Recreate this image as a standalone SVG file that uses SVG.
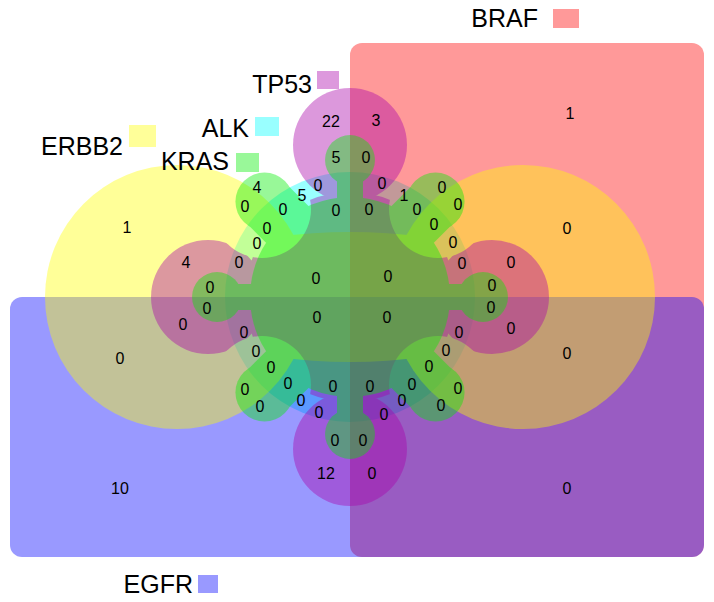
<svg xmlns="http://www.w3.org/2000/svg" xmlns:xlink="http://www.w3.org/1999/xlink" width="714" height="602" viewBox="0 0 714 602">
<style>
.set{opacity:0.4}
.cnt{font-family:"Liberation Sans",Arial,sans-serif;font-size:16px;text-anchor:middle;fill:#000}
.lab{font-family:"Liberation Sans",Arial,sans-serif;font-size:25px;fill:#000;text-anchor:end}
</style>
<defs>
<mask id="tpNotch" maskUnits="userSpaceOnUse" x="0" y="0" width="714" height="602">
<rect x="0" y="0" width="714" height="602" fill="#fff"/>
<circle cx="262" cy="209" r="49" fill="#000"/>
<circle cx="438" cy="209" r="49" fill="#000"/>
<circle cx="262" cy="385" r="49" fill="#000"/>
<circle cx="438" cy="385" r="49" fill="#000"/>
</mask>
<g id="cap" transform="rotate(-135)">
<rect x="0" y="-21" width="128" height="56"/>
<circle cx="128" cy="7" r="29"/>
</g>
</defs>
<rect width="714" height="602" fill="#fff"/>

<g id="set-ALK" class="set" fill="#00ffff">
<circle cx="350" cy="297" r="125"/>
</g>
<g id="set-BRAF" class="set" fill="#ff0000">
<rect x="350" y="43" width="354" height="514" rx="12"/>
</g>
<g id="set-EGFR" class="set" fill="#0000ff">
<rect x="10" y="297" width="694" height="260" rx="12"/>
</g>
<g id="set-ERBB2" class="set" fill="#ffff00">
<circle cx="177" cy="297" r="132"/>
<circle cx="523" cy="297" r="132"/>
<ellipse cx="350" cy="297" rx="190" ry="65"/>
</g>
<g id="set-TP53" class="set" fill="#aa00aa" mask="url(#tpNotch)">
<circle cx="350" cy="297" r="105"/>
<circle cx="350" cy="145" r="57"/>
<circle cx="350" cy="449" r="57"/>
<circle cx="208" cy="297" r="57"/>
<circle cx="492" cy="297" r="57"/>
</g>
<g id="set-KRAS" class="set" fill="#00ee00">
<circle cx="350" cy="297" r="100"/>
<circle cx="350" cy="160" r="25"/>
<rect x="337" y="160" width="26" height="42"/>
<circle cx="350" cy="434" r="25"/>
<rect x="337" y="392" width="26" height="42"/>
<circle cx="217" cy="297" r="25"/>
<rect x="217" y="284" width="36" height="26"/>
<circle cx="483" cy="297" r="25"/>
<rect x="447" y="284" width="36" height="26"/>
<use xlink:href="#cap" transform="translate(350,297)"/>
<use xlink:href="#cap" transform="translate(350,297) scale(-1,1)"/>
<use xlink:href="#cap" transform="translate(350,297) scale(1,-1)"/>
<use xlink:href="#cap" transform="translate(350,297) scale(-1,-1)"/>
</g>

<g id="legend-BRAF"><text class="lab" x="538" y="27">BRAF</text><rect class="set" x="553" y="9" width="26" height="19" fill="#ff0000"/></g>
<g id="legend-TP53"><text class="lab" x="312" y="93">TP53</text><rect class="set" x="317" y="71" width="22" height="18" fill="#aa00aa"/></g>
<g id="legend-ALK"><text class="lab" x="249" y="137">ALK</text><rect class="set" x="255" y="117" width="24" height="19" fill="#00ffff"/></g>
<g id="legend-ERBB2"><text class="lab" x="123" y="155">ERBB2</text><rect class="set" x="129" y="125" width="27" height="22" fill="#ffff00"/></g>
<g id="legend-KRAS"><text class="lab" x="229" y="170">KRAS</text><rect class="set" x="236" y="153" width="23" height="19" fill="#00ee00"/></g>
<g id="legend-EGFR"><text class="lab" x="193" y="593">EGFR</text><rect class="set" x="198" y="575" width="20" height="18" fill="#0000ff"/></g>

<g id="counts" class="cnt">
<text class="cnt" x="127" y="233">1</text>
<text class="cnt" x="331" y="127">22</text>
<text class="cnt" x="376" y="126">3</text>
<text class="cnt" x="336" y="163">5</text>
<text class="cnt" x="366" y="163">0</text>
<text class="cnt" x="257" y="193">4</text>
<text class="cnt" x="318" y="191">0</text>
<text class="cnt" x="302" y="201">5</text>
<text class="cnt" x="245" y="212">0</text>
<text class="cnt" x="283" y="215">0</text>
<text class="cnt" x="336" y="216">0</text>
<text class="cnt" x="267" y="234">0</text>
<text class="cnt" x="257" y="249">0</text>
<text class="cnt" x="186" y="268">4</text>
<text class="cnt" x="239" y="268">0</text>
<text class="cnt" x="316" y="284">0</text>
<text class="cnt" x="210" y="293">0</text>
<text class="cnt" x="570" y="119">1</text>
<text class="cnt" x="382" y="189">0</text>
<text class="cnt" x="404" y="201">1</text>
<text class="cnt" x="442" y="193">0</text>
<text class="cnt" x="458" y="210">0</text>
<text class="cnt" x="369" y="215">0</text>
<text class="cnt" x="417" y="215">0</text>
<text class="cnt" x="434" y="230">0</text>
<text class="cnt" x="453" y="248">0</text>
<text class="cnt" x="567" y="234">0</text>
<text class="cnt" x="462" y="269">0</text>
<text class="cnt" x="511" y="268">0</text>
<text class="cnt" x="388" y="282">0</text>
<text class="cnt" x="492" y="291">0</text>
<text class="cnt" x="491" y="313">0</text>
<text class="cnt" x="387" y="323">0</text>
<text class="cnt" x="511" y="334">0</text>
<text class="cnt" x="459" y="338">0</text>
<text class="cnt" x="567" y="359">0</text>
<text class="cnt" x="446" y="356">0</text>
<text class="cnt" x="429" y="372">0</text>
<text class="cnt" x="412" y="390">0</text>
<text class="cnt" x="458" y="394">0</text>
<text class="cnt" x="370" y="392">0</text>
<text class="cnt" x="402" y="406">0</text>
<text class="cnt" x="441" y="411">0</text>
<text class="cnt" x="384" y="420">0</text>
<text class="cnt" x="363" y="446">0</text>
<text class="cnt" x="372" y="479">0</text>
<text class="cnt" x="567" y="494">0</text>
<text class="cnt" x="207" y="314">0</text>
<text class="cnt" x="317" y="323">0</text>
<text class="cnt" x="183" y="330">0</text>
<text class="cnt" x="244" y="338">0</text>
<text class="cnt" x="256" y="357">0</text>
<text class="cnt" x="120" y="364">0</text>
<text class="cnt" x="271" y="373">0</text>
<text class="cnt" x="288" y="389">0</text>
<text class="cnt" x="333" y="392">0</text>
<text class="cnt" x="245" y="395">0</text>
<text class="cnt" x="301" y="406">0</text>
<text class="cnt" x="260" y="412">0</text>
<text class="cnt" x="319" y="418">0</text>
<text class="cnt" x="335" y="446">0</text>
<text class="cnt" x="326" y="479">12</text>
<text class="cnt" x="120" y="494">10</text>
</g>
</svg>
